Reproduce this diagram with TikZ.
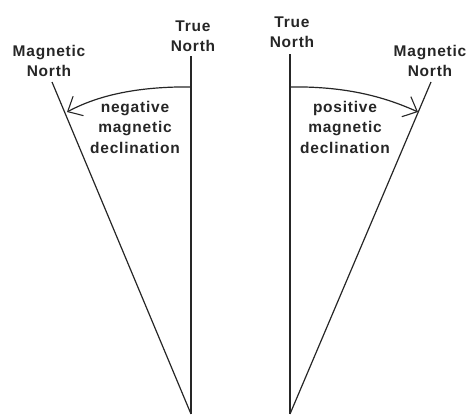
\documentclass[tikz,border=0pt]{standalone}
\usepackage{fontspec}
\setmainfont{Liberation Sans}[LetterSpace=5]
\usetikzlibrary{arrows.meta}
\begin{document}
\begin{tikzpicture}[x=1pt,y=-1pt,
  lbl/.style={font=\fontsize{15.5}{20.5}\selectfont\bfseries, align=center, inner sep=0pt, text=black!85},
  ln/.style={line width=1.2pt, draw=black!85},
  arc/.style={line width=1.2pt, draw=black!85, -{Straight Barb[length=12pt,width=22pt,line width=1.1pt]}}]
\useasboundingbox (0,0) rectangle (472,415);
% left
\coordinate (LT) at (191,56);
\coordinate (LB) at (191,414);
\coordinate (LM) at (52,82);
\coordinate (LA) at (67,112);
\coordinate (LS) at (191,87);
\coordinate (LH) at (178,87);
\draw[ln] (LT) -- (LB);
\draw[ln] (LM) -- (LB);
\draw[arc] (LS) -- (LH) .. controls (130,88) and (95,97) .. (LA);
\node[lbl] (ltn) at (193,36) {True\\North};
\node[lbl] (lmn) at (49,61) {Magnetic\\North};
\node[lbl] (lneg) at (135,127) {negative\\magnetic\\declination};
% right
\coordinate (RT) at (290,54);
\coordinate (RB) at (290,414);
\coordinate (RM) at (431,82);
\coordinate (RA) at (418,112);
\coordinate (RS) at (290,87);
\coordinate (RH) at (304,87);
\draw[ln] (RT) -- (RB);
\draw[ln] (RM) -- (RB);
\draw[arc] (RS) -- (RH) .. controls (350,88) and (385,97) .. (RA);
\node[lbl] (rtn) at (292,32) {True\\North};
\node[lbl] (rmn) at (430,61) {Magnetic\\North};
\node[lbl] (rpos) at (345,127) {positive\\magnetic\\declination};
\end{tikzpicture}
\end{document}
